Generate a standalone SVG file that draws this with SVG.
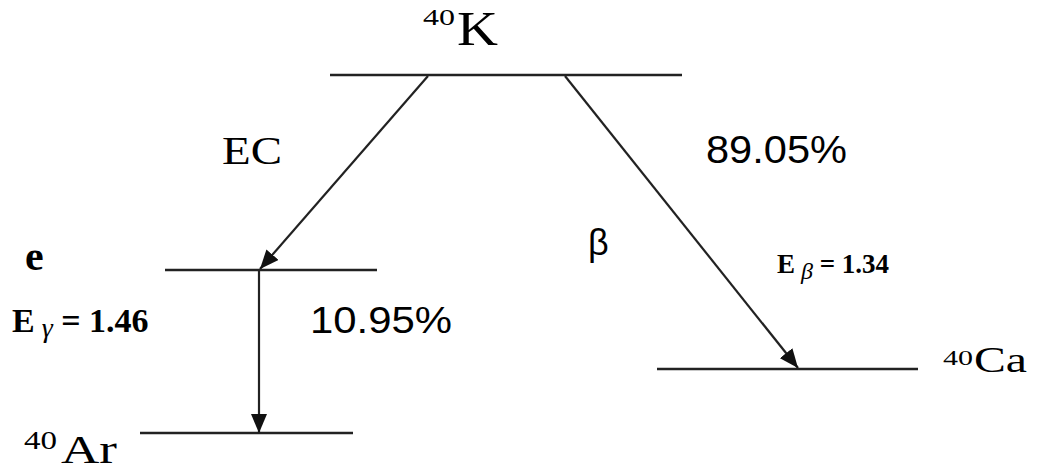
<svg xmlns="http://www.w3.org/2000/svg" width="1042" height="473" viewBox="0 0 1042 473">
<style>
.lvl{stroke:#222;stroke-width:2.6;fill:none}
.arr{stroke:#222;stroke-width:2.2;fill:none;marker-end:url(#ah)}
.ser{font-family:"Liberation Serif","Times New Roman",serif;fill:#000}
.sans{font-family:"Liberation Sans",Arial,sans-serif;fill:#000}
.b{font-weight:bold}
</style>
<defs>
<marker id="ah" markerUnits="userSpaceOnUse" markerWidth="20" markerHeight="16" refX="19" refY="8" orient="auto">
<path d="M0,0 L19,8 L0,16 Z" fill="#111"/>
</marker>
</defs>
<g id="K40">
<line class="lvl" x1="330" y1="75" x2="682" y2="75"/>
<text class="ser" x="423" y="25" font-size="24" textLength="32" lengthAdjust="spacingAndGlyphs">40</text>
<text class="ser" x="457" y="45" font-size="48" textLength="41" lengthAdjust="spacingAndGlyphs">K</text>
</g>
<g id="e-level">
<line class="lvl" x1="165" y1="270" x2="377" y2="270"/>
<text class="ser b" x="25" y="270" font-size="42">e</text>
</g>
<g id="Ar40">
<line class="lvl" x1="140" y1="433" x2="353" y2="433"/>
<text class="ser" x="24" y="449" font-size="25" textLength="33" lengthAdjust="spacingAndGlyphs">40</text>
<text class="ser" x="61" y="463" font-size="40" textLength="56" lengthAdjust="spacingAndGlyphs">Ar</text>
</g>
<g id="Ca40">
<line class="lvl" x1="657" y1="369" x2="918" y2="369"/>
<text class="ser" x="943" y="365" font-size="22" textLength="30" lengthAdjust="spacingAndGlyphs">40</text>
<text class="ser" x="974" y="372" font-size="36" textLength="53" lengthAdjust="spacingAndGlyphs">Ca</text>
</g>
<g id="connectors">
<line class="arr" x1="428" y1="76" x2="260" y2="269"/>
<line class="arr" x1="259" y1="271" x2="259" y2="433"/>
<line class="arr" x1="565" y1="76" x2="798" y2="368"/>
</g>
<g id="labels">
<text class="ser" x="222" y="164" font-size="40" textLength="60" lengthAdjust="spacingAndGlyphs">EC</text>
<text class="sans" x="706" y="163" font-size="38" textLength="141" lengthAdjust="spacingAndGlyphs">89.05%</text>
<text class="sans" x="588" y="255" font-size="36">β</text>
<text class="sans" x="310" y="333" font-size="36" textLength="142" lengthAdjust="spacingAndGlyphs">10.95%</text>
<text class="ser b" x="12" y="332" font-size="34">E<tspan font-style="italic" font-weight="normal" font-size="28" dy="5"> γ</tspan><tspan dy="-5"> = 1.46</tspan></text>
<text class="ser b" x="777" y="273" font-size="27">E<tspan font-style="italic" font-weight="normal" font-size="24" dy="6"> β</tspan><tspan dy="-6"> = 1.34</tspan></text>
</g>
</svg>
